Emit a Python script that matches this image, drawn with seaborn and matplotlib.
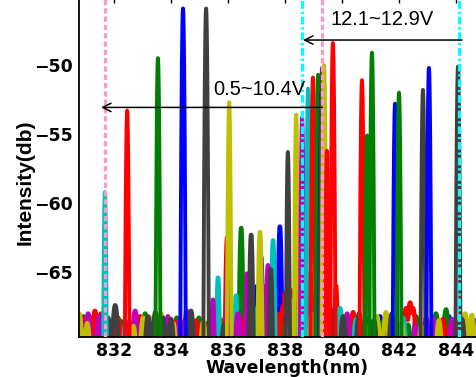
import numpy as np
import pandas as pd
import matplotlib
matplotlib.use('Agg')
import matplotlib.pyplot as plt
import seaborn as sns

# ---------------------------------------------------------------
# Data
# ---------------------------------------------------------------
# main lasing peaks: centre (nm), top (dB), colour code
peak_nm = [831.68, 832.46, 833.54, 834.42, 835.23, 836.04, 838.10, 838.39, 838.60,
           838.81, 838.98, 839.16, 839.28, 839.30, 839.37, 839.47, 839.68, 840.70,
           840.88, 841.05, 841.86, 842.00, 842.84, 843.05, 844.07]
peak_db = [-59.2, -53.3, -49.5, -45.9, -45.9, -52.7, -56.3, -53.6, -53.8,
           -51.7, -50.9, -50.7, -52.0, -50.2, -50.0, -56.2, -48.4, -51.1,
           -55.1, -49.1, -52.8, -52.0, -51.8, -50.2, -50.1]
peak_col = ['c', 'r', 'g', 'b', 'k', 'y', 'k', 'y', 'm',
            'c', 'r', 'g', 'b', 'k', 'y', 'r', 'r', 'r',
            'g', 'g', 'b', 'g', 'k', 'b', 'k']

# side modes / noise floor bumps: centre (nm), top (dB), colour code
floor_nm = [830.78, 830.86, 830.93, 830.98, 831.06, 831.09, 831.19, 831.27, 831.33, 831.40,
            831.47, 831.54, 831.60, 831.79, 831.85, 831.89, 831.97, 832.04, 832.14, 832.21,
            832.28, 832.60, 832.68, 832.74, 832.77, 832.84, 832.91, 832.97, 833.02, 833.09,
            833.14, 833.19, 833.25, 833.30, 833.38, 833.45, 833.65, 833.72, 833.79, 833.84,
            833.89, 833.95, 834.00, 834.08, 834.14, 834.20, 834.28, 834.55, 834.62, 834.70,
            834.80, 834.88, 834.98, 835.05, 835.37, 835.47, 835.55, 835.65, 835.72, 835.79,
            835.86, 835.93, 835.97, 836.00, 836.10, 836.18, 836.28, 836.35, 836.46, 836.53,
            836.60, 836.67, 836.75, 836.81, 836.88, 836.95, 837.02, 837.12, 837.16, 837.24,
            837.30, 837.40, 837.50, 837.58, 837.65, 837.72, 837.82, 837.93, 838.00, 838.05,
            838.18, 838.28, 838.34, 838.49, 838.60, 838.70, 838.76, 838.88, 838.93, 839.09,
            839.23, 839.40, 839.52, 839.58, 839.79, 839.86, 839.93, 840.04, 840.10, 840.18,
            840.28, 840.34, 840.39, 840.49, 840.55, 840.60, 840.78, 840.84, 840.95, 841.12,
            841.18, 841.23, 841.33, 841.44, 841.54, 841.60, 841.65, 841.75, 841.93, 842.08,
            842.14, 842.25, 842.32, 842.39, 842.49, 842.56, 842.60, 842.70, 842.78, 842.95,
            843.12, 843.19, 843.30, 843.40, 843.47, 843.54, 843.65, 843.75, 843.80, 843.86,
            843.96, 844.02, 844.21, 844.32, 844.40, 844.46, 844.56, 844.62, 844.67,
            832.40, 832.52, 833.50, 833.58, 834.36, 834.48, 835.13, 835.28, 831.72, 840.66,
            841.00, 841.80, 842.90, 843.08, 844.12]
floor_db = [-68.0, -68.6, -68.2, -68.3, -68.7, -68.0, -68.3, -68.8, -67.8, -68.7,
            -68.2, -68.0, -68.6, -68.3, -68.9, -68.7, -68.9, -67.4, -68.3, -68.5,
            -68.6, -68.7, -68.9, -67.8, -68.5, -68.9, -68.2, -68.6, -68.3, -68.0,
            -68.8, -68.2, -68.7, -68.3, -68.9, -67.9, -68.0, -68.3, -68.5, -68.8,
            -68.2, -68.9, -68.4, -68.7, -68.6, -68.3, -68.5, -67.8, -68.8, -67.8,
            -68.6, -68.5, -68.3, -68.8, -68.2, -67.0, -68.6, -65.4, -68.5, -68.5,
            -68.8, -67.9, -62.5, -63.6, -68.6, -67.5, -66.7, -68.0, -61.8, -68.4,
            -68.6, -65.1, -66.5, -62.3, -67.5, -68.3, -66.0, -62.1, -63.9, -66.0,
            -67.2, -64.5, -64.8, -62.7, -66.5, -68.0, -61.7, -67.5, -66.5, -68.3,
            -67.0, -66.3, -67.8, -65.5, -62.0, -66.8, -67.2, -65.0, -68.0, -66.5,
            -64.8, -66.0, -68.3, -67.6, -66.0, -68.5, -67.6, -68.2, -68.6, -68.0,
            -68.3, -68.8, -67.9, -68.4, -68.7, -68.0, -68.6, -68.3, -68.8, -68.5,
            -68.9, -68.2, -68.2, -68.6, -67.9, -68.8, -68.4, -68.0, -68.9, -68.7,
            -68.3, -67.6, -68.8, -67.2, -67.6, -68.9, -68.2, -68.5, -68.9, -68.3,
            -68.8, -68.3, -68.0, -68.5, -68.9, -68.4, -67.7, -68.2, -68.9, -68.4,
            -68.5, -68.9, -68.4, -68.0, -68.8, -68.6, -68.1, -68.9, -68.5,
            -68.8, -68.6, -68.7, -68.4, -68.8, -68.5, -68.6, -68.7, -68.9, -68.7,
            -68.6, -68.8, -68.7, -68.9, -68.6]
floor_col = ['y', 'm', 'g', 'r', 'y', 'm', 'g', 'b', 'r', 'b',
             'm', 'r', 'b', 'k', 'c', 'b', 'g', 'k', 'r', 'g',
             'b', 'r', 'y', 'm', 'g', 'b', 'r', 'g', 'y', 'g',
             'r', 'k', 'm', 'y', 'r', 'k', 'y', 'k', 'c', 'r',
             'm', 'g', 'k', 'y', 'r', 'g', 'm', 'm', 'b', 'k',
             'g', 'r', 'g', 'b', 'r', 'm', 'g', 'c', 'b', 'g',
             'k', 'r', 'r', 'm', 'g', 'r', 'c', 'm', 'g', 'r',
             'b', 'm', 'g', 'k', 'c', 'r', 'b', 'y', 'b', 'm',
             'r', 'm', 'k', 'c', 'b', 'r', 'b', 'r', 'r', 'g',
             'y', 'r', 'c', 'r', 'b', 'r', 'm', 'r', 'y', 'm',
             'r', 'g', 'm', 'k', 'r', 'g', 'c', 'k', 'r', 'm',
             'g', 'b', 'r', 'c', 'b', 'k', 'y', 'b', 'r', 'k',
             'm', 'y', 'b', 'g', 'y', 'm', 'r', 'k', 'r', 'y',
             'c', 'r', 'g', 'r', 'r', 'm', 'g', 'b', 'y', 'r',
             'c', 'm', 'g', 'y', 'b', 'r', 'g', 'b', 'r', 'm',
             'b', 'g', 'k', 'y', 'b', 'r', 'y', 'g', 'b',
             'c', 'm', 'b', 'r', 'g', 'r', 'y', 'g', 'k', 'm',
             'y', 'r', 'g', 'm', 'r']

# tuning ranges marked on the plot
pink_nm = [831.68, 839.31]
cyan_nm = [838.59, 844.11]
range_labels = ['0.5~10.4V', '12.1~12.9V']
range_from = [839.31, 844.21]
range_to = [831.54, 838.63]
range_db = [-53.07, -48.19]
label_nm = [835.47, 839.61]
label_db = [-51.78, -46.70]

xticks = [832, 834, 836, 838, 840, 842, 844]
yticks = [-65, -60, -55, -50]

colors = {'b': '#0000ff', 'g': '#008000', 'r': '#ff0000', 'c': '#00bfbf',
          'm': '#bf00bf', 'y': '#bfbf00', 'k': '#404040'}

# ---------------------------------------------------------------
# Build spectra traces
# ---------------------------------------------------------------
grid = np.arange(830.5, 845.3, 0.004)
BASE = -71.0

floor_frames, floor_pal, floor_order = [], {}, []
for code in colors:
    idx = [i for i, c in enumerate(floor_col) if c == code]
    y = np.full_like(grid, BASE)
    for i in idx:
        k = 220 if floor_db[i] < -67 else 1200
        y = np.maximum(y, floor_db[i] - k * (grid - floor_nm[i]) ** 2)
    name = f'floor_{code}'
    floor_frames.append(pd.DataFrame({'nm': grid, 'db': y, 'trace': name}))
    floor_pal[name] = colors[code]
    floor_order.append(name)
floor_df = pd.concat(floor_frames, ignore_index=True)

peak_frames, peak_pal, peak_order = [], {}, []
for i, (c, h, code) in enumerate(zip(peak_nm, peak_db, peak_col)):
    y = np.maximum(BASE, h - 2600 * (grid - c) ** 2)
    name = f'peak_{i}'
    peak_frames.append(pd.DataFrame({'nm': grid, 'db': y, 'trace': name}))
    peak_pal[name] = colors[code]
    peak_order.append(name)
peak_df = pd.concat(peak_frames, ignore_index=True)

# ---------------------------------------------------------------
# Plot
# ---------------------------------------------------------------
sns.set_theme(style='white')
plt.rcParams['font.family'] = ['DejaVu Sans']
plt.rcParams['text.color'] = 'black'
plt.rcParams['axes.labelcolor'] = 'black'
plt.rcParams['xtick.color'] = 'black'
plt.rcParams['ytick.color'] = 'black'

fig = plt.figure(figsize=(4.77, 3.77), dpi=100)
ax = fig.add_axes([79 / 477, 40 / 377, 405.5 / 477, 341 / 377])

sns.lineplot(data=floor_df, x='nm', y='db', hue='trace', hue_order=floor_order,
             palette=floor_pal, estimator=None, sort=False, legend=False,
             linewidth=3.2, ax=ax)
sns.lineplot(data=peak_df, x='nm', y='db', hue='trace', hue_order=peak_order,
             palette=peak_pal, estimator=None, sort=False, legend=False,
             linewidth=2.8, ax=ax)

for x in pink_nm:
    ax.axvline(x, color='#ff99cc', lw=2.3, ls=(0, (1.7, 0.9)), zorder=5)
for x in cyan_nm:
    ax.axvline(x, color='#00ffff', lw=2.3, ls=(0, (2.4, 0.9, 0.7, 0.9)), zorder=5)

for lab, x0, x1, yv, lx, ly in zip(range_labels, range_from, range_to, range_db,
                                    label_nm, label_db):
    ax.annotate('', xy=(x1, yv), xytext=(x0, yv),
                arrowprops=dict(arrowstyle='->', lw=1.1, color='black',
                                shrinkA=0, shrinkB=0, mutation_scale=15), zorder=6)
    ax.text(lx, ly, lab, ha='left', va='center', fontsize=14.5,
            family=['Liberation Sans', 'DejaVu Sans'], color='black', zorder=6)

ax.set_xlim(830.77, 845.0)
ax.set_ylim(-69.7, -45.0)
ax.set_xticks(xticks)
ax.set_yticks(yticks)
ax.tick_params(axis='x', top=True, bottom=True, direction='in', length=5, width=1,
               pad=3.5, labelsize=12.5, colors='black')
ax.tick_params(axis='y', left=True, length=0, pad=4.3, labelsize=12.5, colors='black')
for lab in ax.get_xticklabels() + ax.get_yticklabels():
    lab.set_fontweight('bold')

for s in ax.spines.values():
    s.set_color('black')
    s.set_linewidth(1.3)

ax.set_xlabel('Wavelength(nm)', fontsize=12.5, fontweight='bold', va='center', color='black')
ax.xaxis.set_label_coords(0.513, -0.091)
ax.set_ylabel('Intensity(db)', fontsize=15, fontweight='bold', va='center',
              family=['Liberation Sans', 'DejaVu Sans'], color='black')
ax.yaxis.set_label_coords(-0.133, 0.455)

fig.savefig('out.png', dpi=100)
